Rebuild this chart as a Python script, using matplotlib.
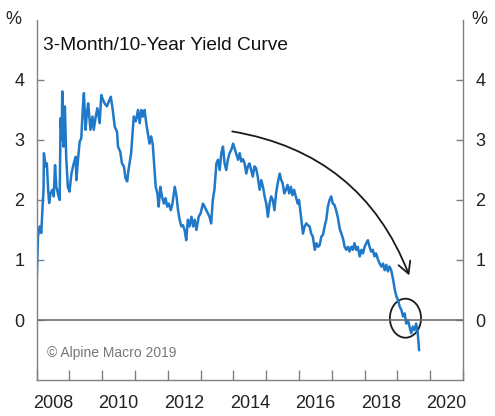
import matplotlib
matplotlib.use("Agg")
import matplotlib.pyplot as plt
from matplotlib.patches import FancyArrowPatch, Ellipse

plt.rcParams['font.family'] = ['Liberation Sans', 'DejaVu Sans']

# 3-month / 10-year spread (fractional year, %)
years = [
    2008.00, 2008.04, 2008.09, 2008.14, 2008.19, 2008.21, 2008.22, 2008.27, 2008.31, 2008.35,
    2008.38, 2008.42, 2008.48, 2008.52, 2008.56, 2008.60, 2008.66, 2008.70, 2008.73, 2008.76,
    2008.78, 2008.82, 2008.86, 2008.90, 2008.95, 2009.00, 2009.06, 2009.13, 2009.19, 2009.21,
    2009.26, 2009.31, 2009.36, 2009.41, 2009.44, 2009.49, 2009.53, 2009.57, 2009.64, 2009.70,
    2009.74, 2009.80, 2009.85, 2009.92, 2009.97, 2010.02, 2010.07, 2010.14, 2010.20, 2010.26,
    2010.32, 2010.38, 2010.45, 2010.48, 2010.55, 2010.60, 2010.66, 2010.71, 2010.76, 2010.80,
    2010.88, 2010.96, 2011.02, 2011.09, 2011.14, 2011.19, 2011.24, 2011.29, 2011.34, 2011.39,
    2011.44, 2011.49, 2011.54, 2011.60, 2011.63, 2011.68, 2011.72, 2011.77, 2011.82, 2011.88,
    2011.93, 2011.98, 2012.03, 2012.09, 2012.14, 2012.21, 2012.26, 2012.31, 2012.36, 2012.41,
    2012.46, 2012.51, 2012.56, 2012.61, 2012.66, 2012.72, 2012.77, 2012.82, 2012.87, 2012.94,
    2013.00, 2013.07, 2013.12, 2013.17, 2013.22, 2013.27, 2013.32, 2013.37, 2013.42, 2013.48,
    2013.53, 2013.58, 2013.63, 2013.68, 2013.73, 2013.78, 2013.83, 2013.88, 2013.93, 2013.99,
    2014.04, 2014.09, 2014.14, 2014.19, 2014.24, 2014.29, 2014.34, 2014.39, 2014.44, 2014.49,
    2014.54, 2014.59, 2014.64, 2014.69, 2014.74, 2014.80, 2014.85, 2014.90, 2014.95, 2015.00,
    2015.05, 2015.10, 2015.15, 2015.20, 2015.25, 2015.30, 2015.35, 2015.41, 2015.46, 2015.50,
    2015.55, 2015.60, 2015.65, 2015.70, 2015.75, 2015.80, 2015.85, 2015.90, 2015.96, 2016.00,
    2016.07, 2016.12, 2016.17, 2016.22, 2016.27, 2016.32, 2016.37, 2016.42, 2016.48, 2016.53,
    2016.58, 2016.63, 2016.68, 2016.73, 2016.78, 2016.83, 2016.88, 2016.93, 2016.98, 2017.03,
    2017.08, 2017.13, 2017.18, 2017.24, 2017.29, 2017.34, 2017.39, 2017.44, 2017.49, 2017.54,
    2017.59, 2017.64, 2017.69, 2017.74, 2017.79, 2017.85, 2017.90, 2017.95, 2018.00, 2018.05,
    2018.10, 2018.15, 2018.20, 2018.25, 2018.30, 2018.35, 2018.41, 2018.46, 2018.51, 2018.56,
    2018.61, 2018.66, 2018.71, 2018.76, 2018.81, 2018.87, 2018.92, 2018.97, 2019.02, 2019.07,
    2019.12, 2019.17, 2019.22, 2019.27, 2019.32, 2019.37, 2019.42, 2019.47, 2019.52, 2019.57,
    2019.62, 2019.66,
]
spread = [
    0.61, 1.39, 1.56, 1.45, 2.00, 2.17, 2.78, 2.56, 2.61, 2.17,
    1.95, 2.11, 2.17, 2.06, 2.58, 2.22, 2.08, 2.00, 3.36, 3.00,
    3.81, 2.89, 3.56, 2.72, 2.22, 2.14, 2.44, 2.61, 2.72, 2.33,
    2.67, 2.97, 3.03, 3.56, 3.78, 3.17, 3.44, 3.61, 3.17, 3.39,
    3.17, 3.39, 3.53, 3.28, 3.75, 3.67, 3.61, 3.56, 3.64, 3.72,
    3.50, 3.22, 3.14, 2.89, 2.80, 2.61, 2.56, 2.36, 2.31, 2.50,
    2.78, 3.39, 3.31, 3.50, 3.28, 3.50, 3.39, 3.50, 3.28, 3.11,
    2.94, 3.06, 2.92, 2.44, 2.22, 2.11, 1.89, 2.22, 2.06, 1.94,
    2.03, 1.89, 1.94, 1.83, 1.94, 2.22, 2.08, 1.83, 1.67, 1.56,
    1.58, 1.50, 1.33, 1.67, 1.56, 1.72, 1.56, 1.67, 1.50, 1.72,
    1.78, 1.94, 1.89, 1.83, 1.78, 1.72, 1.61, 2.00, 2.17, 2.61,
    2.67, 2.50, 2.78, 2.89, 2.61, 2.50, 2.67, 2.78, 2.83, 2.94,
    2.85, 2.76, 2.67, 2.78, 2.64, 2.68, 2.61, 2.44, 2.56, 2.61,
    2.50, 2.39, 2.56, 2.53, 2.39, 2.17, 2.33, 2.22, 2.06, 1.94,
    1.72, 1.94, 2.06, 2.00, 1.83, 2.11, 2.28, 2.44, 2.33, 2.28,
    2.11, 2.17, 2.25, 2.11, 2.22, 2.08, 2.17, 2.06, 1.94, 2.00,
    1.67, 1.44, 1.56, 1.61, 1.58, 1.56, 1.44, 1.39, 1.17, 1.28,
    1.22, 1.25, 1.39, 1.42, 1.56, 1.67, 1.89, 2.00, 2.06, 1.94,
    1.92, 1.83, 1.72, 1.52, 1.44, 1.36, 1.22, 1.17, 1.22, 1.14,
    1.22, 1.17, 1.28, 1.17, 1.22, 1.06, 1.17, 1.11, 1.22, 1.28,
    1.33, 1.22, 1.14, 1.17, 1.06, 1.11, 1.00, 0.94, 0.89, 0.94,
    0.83, 0.92, 0.81, 0.89, 0.83, 0.67, 0.50, 0.39, 0.33, 0.22,
    0.17, 0.06, 0.11, -0.06, 0.00, -0.11, -0.22, -0.11, -0.17, -0.06,
    -0.22, -0.50,
]

year_ticks = list(range(2008, 2022))
year_labels = ["2008", "2010", "2012", "2014", "2016", "2018", "2020"]
y_ticks = [0, 1, 2, 3, 4]

grey = "#808080"

fig = plt.figure(figsize=(4.95, 4.16), dpi=100)
ax = fig.add_axes([0.0741, 0.0865, 0.8613, 0.8655])

ax.plot(years, spread, color="#1f78c8", lw=1.8)
ax.axhline(0, color="#707070", lw=1.2)

ax.set_xlim(2008, 2021)
ax.set_ylim(-1, 5)

ax.spines["top"].set_visible(False)
for s in ["left", "right", "bottom"]:
    ax.spines[s].set_color(grey)
    ax.spines[s].set_linewidth(1.0)

ax.set_xticks(year_ticks)
ax.set_xticklabels([])
ax.set_xticks([int(l) + 0.5 for l in year_labels], minor=True)
ax.set_xticklabels(year_labels, minor=True)
ax.tick_params(axis="x", which="major", direction="in", length=7, color=grey, width=1)
ax.tick_params(axis="x", which="minor", length=0, pad=11, labelsize=13, labelcolor="#222222")

ax.set_yticks(y_ticks)
ax.tick_params(axis="y", direction="in", length=5, color=grey, width=1,
               left=True, right=True, labelleft=True, labelright=True,
               pad=9, labelsize=13, labelcolor="#222222")

ax.text(-0.035, 1.0, "%", transform=ax.transAxes, ha="right", va="center",
        fontsize=13, color="#222222")
ax.text(1.02, 1.0, "%", transform=ax.transAxes, ha="left", va="center",
        fontsize=13, color="#222222")

ax.text(0.015, 0.93, "3-Month/10-Year Yield Curve", transform=ax.transAxes,
        ha="left", va="center", fontsize=13.8, color="#111111")
ax.text(0.025, 0.075, "\u00a9 Alpine Macro 2019", transform=ax.transAxes,
        ha="left", va="center", fontsize=10, color="#777777")

arrow = FancyArrowPatch((2013.88, 3.15), (2019.39, 0.70),
                        connectionstyle="arc3,rad=-0.29",
                        arrowstyle="->,head_length=0.55,head_width=0.3",
                        mutation_scale=15, lw=1.3, color="#1a1a1a")
ax.add_patch(arrow)
ax.add_patch(Ellipse((2019.245, 0.03), 0.95, 0.65, fill=False,
                     edgecolor="#1a1a1a", lw=1.3))

fig.savefig("out.png", dpi=100)
